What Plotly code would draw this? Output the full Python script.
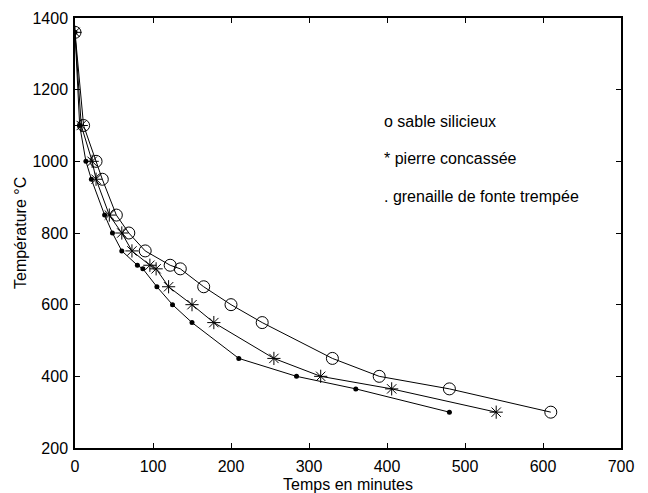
import plotly.graph_objects as go

# sable silicieux (o)
sable_t = [0, 11, 27, 35, 53, 69, 90, 122, 135, 165, 200, 240, 330, 390, 480, 610]
sable_T = [1360, 1100, 1000, 950, 850, 800, 750, 710, 700, 650, 600, 550, 450, 400, 365, 300]

# pierre concassée (*)
pierre_t = [0, 8, 22, 27, 44, 60, 73, 96, 104, 120, 150, 178, 255, 315, 406, 540]
pierre_T = [1360, 1100, 1000, 950, 850, 800, 750, 710, 700, 650, 600, 550, 450, 400, 365, 300]

# grenaille de fonte trempée (.)
grenaille_t = [0, 6, 14, 21, 38, 48, 60, 80, 87, 105, 125, 150, 210, 284, 360, 480]
grenaille_T = [1360, 1100, 1000, 950, 850, 800, 750, 710, 700, 650, 600, 550, 450, 400, 365, 300]

legend_labels = ["o sable silicieux", "* pierre concassée", ". grenaille de fonte trempée"]
legend_y = [1110, 1008, 902]

font = "Liberation Sans, Arial, sans-serif"

fig = go.Figure()
fig.add_trace(go.Scatter(x=sable_t, y=sable_T, mode="lines+markers",
                         line=dict(color="black", width=1),
                         marker=dict(symbol="circle-open", size=12, color="black", line=dict(width=1))))
fig.add_trace(go.Scatter(x=pierre_t, y=pierre_T, mode="lines+markers",
                         line=dict(color="black", width=1),
                         marker=dict(symbol="asterisk-open", size=11, color="black", line=dict(width=1, color="black"))))
fig.add_trace(go.Scatter(x=grenaille_t, y=grenaille_T, mode="lines+markers",
                         line=dict(color="black", width=1),
                         marker=dict(symbol="circle", size=5, color="black")))

for lab, yy in zip(legend_labels, legend_y):
    fig.add_annotation(x=393, y=yy, text=lab, showarrow=False, xanchor="left", yanchor="middle",
                       font=dict(family=font, size=16, color="black"))

# y axis title placed as rotated annotation
fig.add_annotation(x=0, y=0.5, xref="paper", yref="paper", xshift=-55, text="Température °C",
                   textangle=-90, showarrow=False, xanchor="center", yanchor="middle",
                   font=dict(family=font, size=16, color="black"))

axis_common = dict(showline=True, linecolor="black", linewidth=1.5, mirror="ticks", ticks="inside",
                   ticklen=5, tickcolor="black", showgrid=False, zeroline=False, automargin=False,
                   tickfont=dict(family=font, size=16, color="black"))

fig.update_layout(
    width=648, height=493,
    margin=dict(l=75, r=27, t=18, b=45),
    paper_bgcolor="white", plot_bgcolor="white",
    showlegend=False,
    xaxis=dict(range=[0, 700], dtick=100, ticklabelstandoff=3,
               title=dict(text="Temps en minutes", standoff=8,
               font=dict(family=font, size=16, color="black")), **axis_common),
    yaxis=dict(range=[200, 1400], dtick=200, ticklabelstandoff=2, **axis_common),
)

fig.write_html("out.html")
